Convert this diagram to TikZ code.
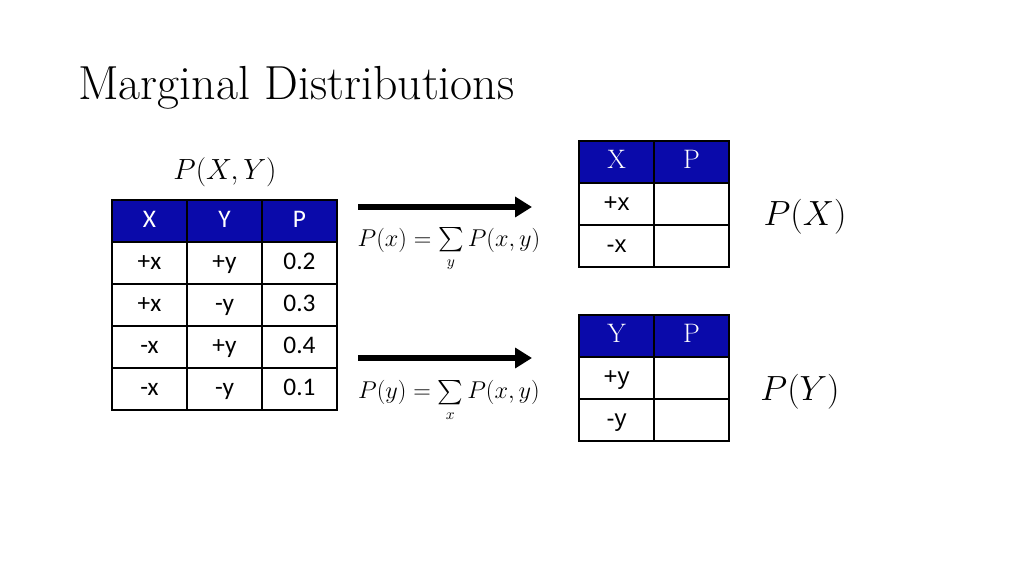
\documentclass[tikz,border=0pt]{standalone}
\usepackage{amsmath}
\usepackage{fontspec}
\newfontfamily\calibri{Carlito}
\newfontfamily\arial{Liberation Sans}
\usetikzlibrary{positioning,calc,arrows.meta}
\definecolor{hdrblue}{RGB}{10,10,170}
\tikzset{
  cell/.style={draw=black,line width=1.2pt,minimum width=1.875cm,minimum height=1.05cm,inner sep=0pt,text height=12pt,text depth=3pt,font=\calibri\fontsize{18}{20}\selectfont},
  hcell/.style={cell,fill=hdrblue,text=white},
  scell/.style={cell,font=\arial\fontsize{17}{20}\selectfont},
  shcell/.style={scell,fill=hdrblue,text=white,font=\fontsize{19}{20}\selectfont},
  bigarrow/.style={line width=4pt,-{Triangle[length=12pt,width=14pt]}}
}
\begin{document}
\begin{tikzpicture}[x=0.025cm,y=-0.025cm]
  \useasboundingbox (0,0) rectangle (1024,576);
  \fill[white] (0,0) rectangle (1024,576);
  % Title
  \node[anchor=base west,inner sep=0pt,font=\fontsize{34}{40}\selectfont] (title) at (78,100) {Marginal Distributions};

  % Joint table
  \node[font=\fontsize{20}{24}\selectfont] (pxy) at (225,172) {$P(X,Y)$};
  \foreach \t [count=\c] in {X,Y,P}
    \node[hcell] (j0\c) at ({112+37.5+75*(\c-1)},221) {\t};
  \foreach \a/\b/\p [count=\r] in {+x/+y/0.2,+x/-y/0.3,-x/+y/0.4,-x/-y/0.1}{
    \node[cell] (j\r1) at (149.5,{221+42*\r}) {\a};
    \node[cell] (j\r2) at (224.5,{221+42*\r}) {\b};
    \node[cell] (j\r3) at (299.5,{221+42*\r}) {\p};
  }

  % Arrows and formulas
  \coordinate (a1s) at (358,207);
  \coordinate (a1e) at (532,207);
  \coordinate (a2s) at (358,358);
  \coordinate (a2e) at (532,358);
  \draw[bigarrow] (a1s) -- (a1e);
  \draw[bigarrow] (a2s) -- (a2e);
  \node[font=\fontsize{16}{18}\selectfont] (fx) at (449,250) {$P(x)=\sum\limits_{y}P(x,y)$};
  \node[font=\fontsize{16}{18}\selectfont] (fy) at (449,401) {$P(y)=\sum\limits_{x}P(x,y)$};

  % Marginal P(X)
  \node[shcell] (x01) at (616.5,162) {X};
  \node[shcell] (x02) at (691.5,162) {P};
  \node[scell] (x11) at (616.5,204) {+x};
  \node[scell] (x12) at (691.5,204) {};
  \node[scell] (x21) at (616.5,246) {-x};
  \node[scell] (x22) at (691.5,246) {};
  \node[font=\fontsize{26}{30}\selectfont] (px) at (805,217) {$P(X)$};

  % Marginal P(Y)
  \node[shcell] (y01) at (616.5,336) {Y};
  \node[shcell] (y02) at (691.5,336) {P};
  \node[scell] (y11) at (616.5,378) {+y};
  \node[scell] (y12) at (691.5,378) {};
  \node[scell] (y21) at (616.5,420) {-y};
  \node[scell] (y22) at (691.5,420) {};
  \node[font=\fontsize{26}{30}\selectfont] (py) at (800,392) {$P(Y)$};
\end{tikzpicture}
\end{document}
